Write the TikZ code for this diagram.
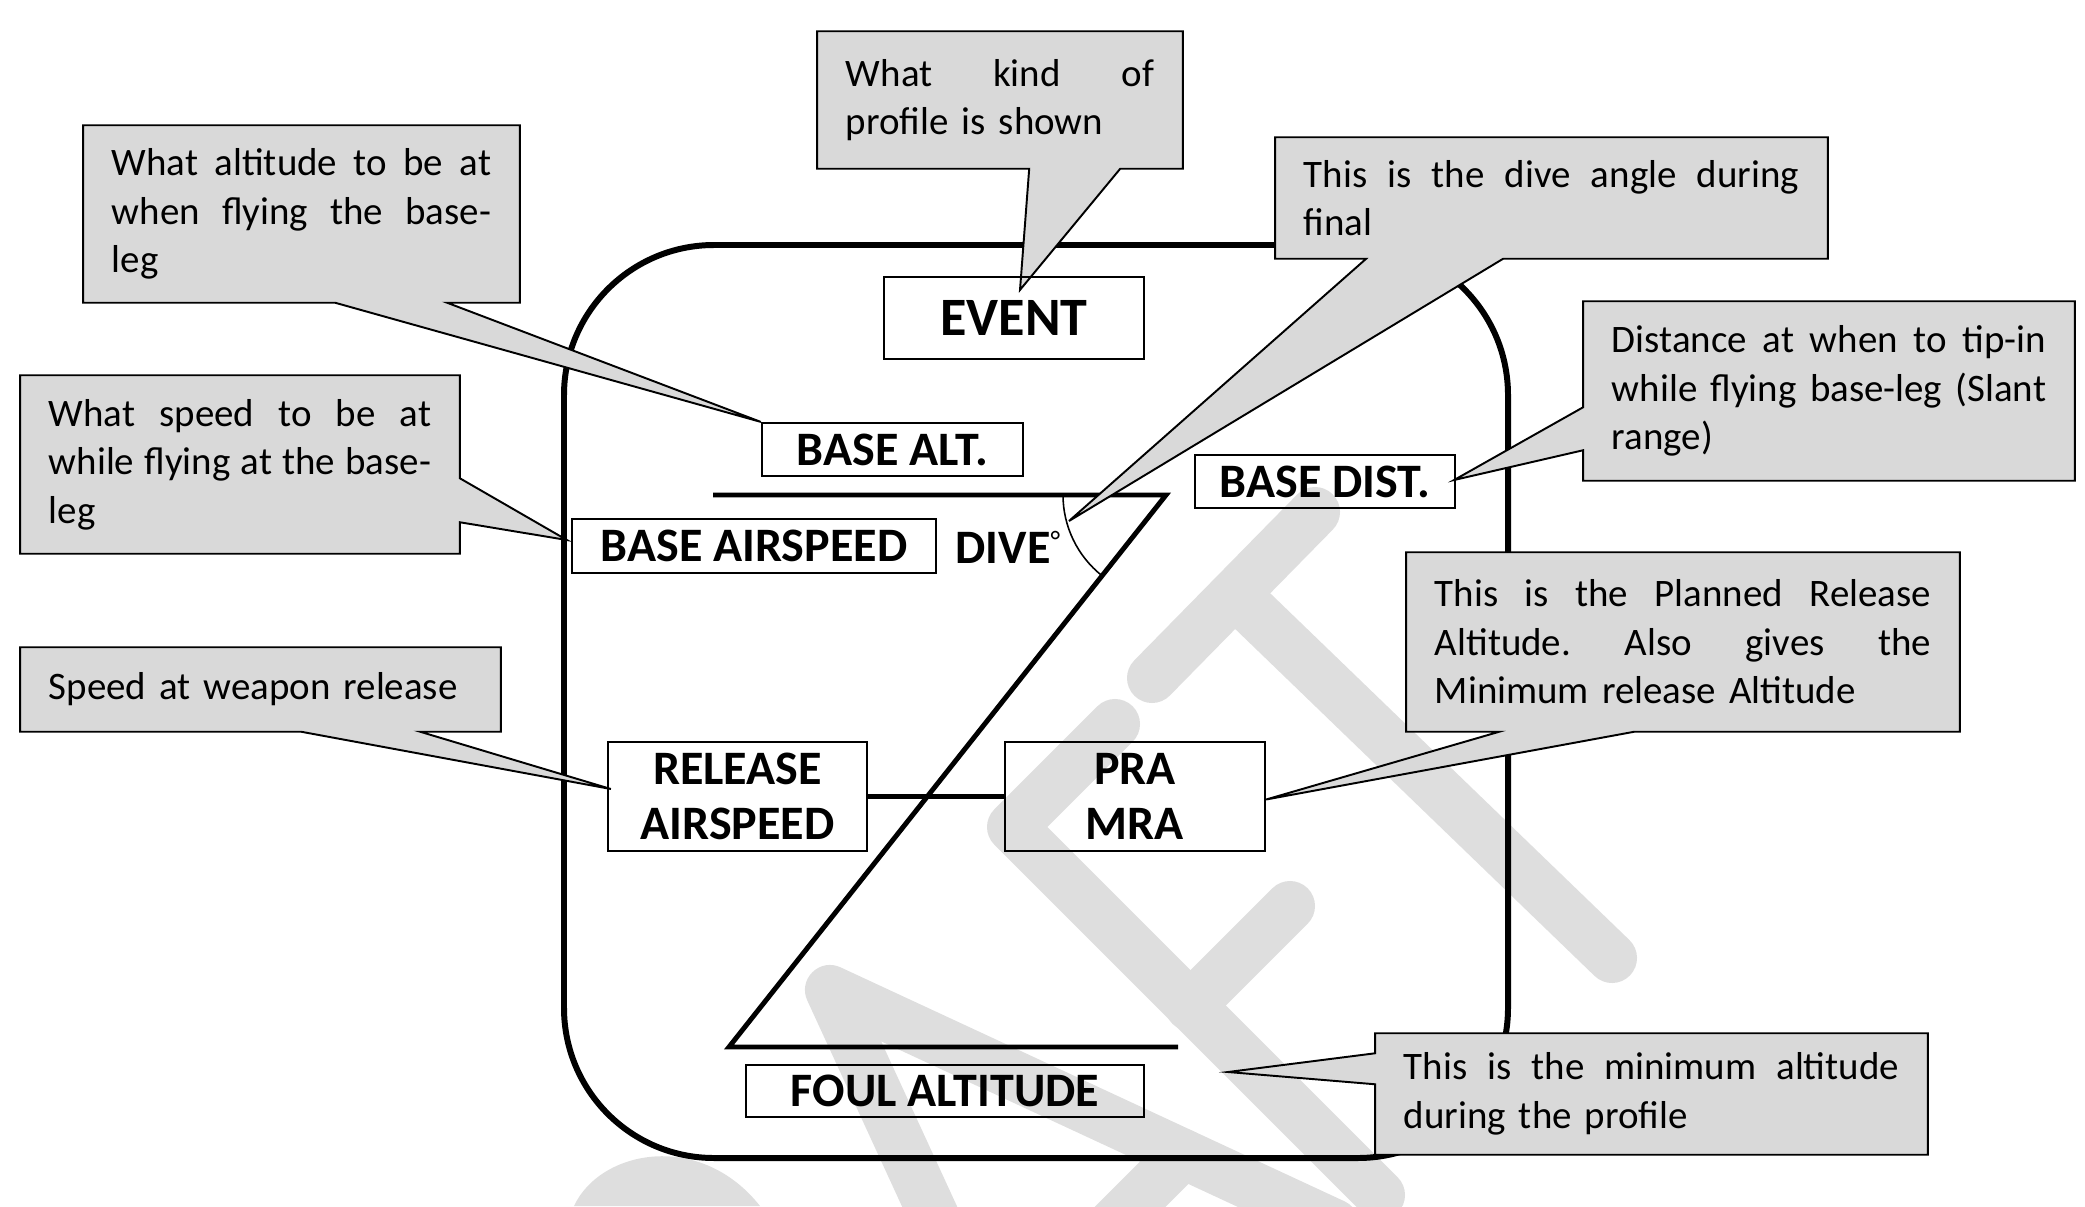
\documentclass[tikz,border=0pt]{standalone}
\usepackage{fontspec}
\setmainfont{Carlito}
\usetikzlibrary{calc}
\pgfdeclarelayer{wm}
\pgfdeclarelayer{frame}
\pgfdeclarelayer{bubble}
\pgfsetlayers{wm,frame,bubble,main}
\definecolor{wmgray}{RGB}{222,222,222}
\definecolor{bubblegray}{RGB}{217,217,217}
\tikzset{
  lbl/.style={draw=black, line width=0.6pt, inner sep=0pt, align=center,
    font=\bfseries\fontsize{13.66pt}{15.6pt}\selectfont},
  ctext/.style={inner xsep=0.28cm, inner ysep=0pt, align=left,
    font=\fontsize{11.07pt}{13.79pt}\selectfont},
  bubble/.style={fill=bubblegray, draw=black, line width=0.55pt, line join=miter},
  wmstroke/.style={draw=wmgray, line width=0.5cm, line cap=round, line join=round},
  frameline/.style={line width=1.7pt},
  zline/.style={line width=1.4pt, line join=miter},
  barline/.style={line width=1.5pt},
  anglearc/.style={line width=0.45pt},
}
\begin{document}
\begin{tikzpicture}[x=0.01cm,y=-0.01cm]
\useasboundingbox (0,0) rectangle (2085,1206);

% ---------- watermark ----------
\begin{pgfonlayer}{wm}
\draw[wmstroke] (1152,678) -- (1315,512);
\draw[wmstroke] (1236,595) -- (1612,958);
\draw[wmstroke] (1115,724) -- (1012,827) -- (1380,1195);
\draw[wmstroke] (1190,1006) -- (1290,906);
\draw[wmstroke] (939,1227) -- (830,990) -- (1334,1224);
\draw[wmstroke] (1183,1154) -- (1083,1254);
\fill[wmgray] (574,1206) .. controls (600,1150) and (700,1130) .. (760,1206) -- cycle;
\end{pgfonlayer}

% ---------- label nodes ----------
\node[lbl, minimum width=2.6cm, minimum height=0.82cm,
  font=\bfseries\fontsize{15.37pt}{17pt}\selectfont] (event) at (1014,318) {EVENT};
\node[lbl, minimum width=2.61cm, minimum height=0.53cm] (basealt) at (892.5,449.5) {BASE ALT.};
\node[lbl, minimum width=3.64cm, minimum height=0.54cm] (baseair) at (754,546) {BASE AIRSPEED};
\node[lbl, minimum width=2.6cm, minimum height=0.53cm] (basedist) at (1325,481.5) {BASE DIST.};
\node[lbl, minimum width=2.59cm, minimum height=1.09cm] (relair) at (737.5,796.5) {RELEASE\\AIRSPEED};
\node[lbl, minimum width=2.6cm, minimum height=1.09cm] (pra) at (1135,796.5) {PRA\\MRA};
\node[lbl, minimum width=3.98cm, minimum height=0.52cm] (foul) at (945,1091) {FOUL ALTITUDE};
\node[inner sep=0pt, anchor=west, font=\bfseries\fontsize{13.66pt}{15.6pt}\selectfont] (dive) at (955,547)
  {DIVE\raisebox{0.55ex}{\mdseries\fontsize{8pt}{9pt}\selectfont °}};

% ---------- frame and profile ----------
\begin{pgfonlayer}{frame}
\draw[frameline, rounded corners=1.5cm] (564,245) rectangle (1508,1158);
\coordinate (zTL) at (713,495);
\coordinate (zTR) at (1166,495);
\coordinate (zBL) at (729,1047);
\coordinate (zBR) at (1178,1047);
\draw[zline] (zTL) -- (zTR) -- (zBL) -- (zBR);
\draw[anglearc] (zTR) ++(-103,0) arc[start angle=180, end angle=128.4, radius=103];
\draw[barline] (relair.east) -- (pra.west);
\end{pgfonlayer}

% ---------- callouts ----------
\node[ctext, text width=3.08cm, minimum height=1.36cm] (c1) at (1000,100)
  {What\hfill kind\hfill of\\profile is shown};
\node[ctext, text width=3.79cm, minimum height=1.76cm] (c2) at (301.5,214)
  {What\hfill altitude\hfill to\hfill be\hfill at\\when\hfill flying\hfill the\hfill base-\\leg};
\node[ctext, text width=3.82cm, minimum height=1.77cm] (c3) at (240,464.5)
  {What\hfill speed\hfill to\hfill be\hfill at\\while\hfill flying\hfill at\hfill the\hfill base-\\leg};
\node[ctext, text width=4.23cm, minimum height=0.83cm] (c4) at (260.5,689.5)
  {Speed at weapon release};
\node[ctext, text width=4.95cm, minimum height=1.2cm] (c5) at (1551.5,198)
  {This\hfill is\hfill the\hfill dive\hfill angle\hfill during\\final};
\node[ctext, text width=4.34cm, minimum height=1.78cm] (c6) at (1829,391)
  {Distance\hfill at\hfill when\hfill to\hfill tip-in\\while\hfill flying\hfill base-leg\hfill (Slant\\range)};
\node[ctext, text width=4.96cm, minimum height=1.78cm] (c7) at (1683,642)
  {This\hfill is\hfill the\hfill Planned\hfill Release\\Altitude.\hfill Also\hfill gives\hfill the\\Minimum release Altitude};
\node[ctext, text width=4.95cm, minimum height=1.2cm] (c8) at (1651.5,1094)
  {This\hfill is\hfill the\hfill minimum\hfill altitude\\during the profile};

\coordinate (divetip) at (1069,521);
\coordinate (foultip) at (1228,1072);

\begin{pgfonlayer}{bubble}
\draw[bubble] (c1.north west) -- (c1.north east) -- (c1.south east)
  -- ($(c1.south west)+(303,0)$) -- ($(event.north)+(6,14)$)
  -- ($(c1.south west)+(212,0)$) -- (c1.south west) -- cycle;
\draw[bubble] (c2.north west) -- (c2.north east) -- (c2.south east)
  -- ($(c2.south west)+(364,0)$) -- (basealt.north west)
  -- ($(c2.south west)+(252,0)$) -- (c2.south west) -- cycle;
\draw[bubble] (c3.north west) -- (c3.north east)
  -- ($(c3.north east)+(0,103)$) -- ($(baseair.west)+(-4,-6)$)
  -- ($(c3.north east)+(0,147)$) -- (c3.south east) -- (c3.south west) -- cycle;
\draw[bubble] (c4.north west) -- (c4.north east) -- (c4.south east)
  -- ($(c4.south west)+(400,0)$) -- ($(relair.west)+(4,-7.5)$)
  -- ($(c4.south west)+(281,0)$) -- (c4.south west) -- cycle;
\draw[bubble] (c5.north west) -- (c5.north east) -- (c5.south east)
  -- ($(c5.south west)+(228,0)$) -- (divetip)
  -- ($(c5.south west)+(91,0)$) -- (c5.south west) -- cycle;
\draw[bubble] (c6.north west) -- (c6.north east) -- (c6.south east) -- (c6.south west)
  -- ($(c6.north west)+(0,149)$) -- ($(basedist.east)+(-2,-1.5)$)
  -- ($(c6.north west)+(0,106)$) -- cycle;
\draw[bubble] (c7.north west) -- (c7.north east) -- (c7.south east)
  -- ($(c7.south west)+(228,0)$) -- ($(pra.east)+(0,3)$)
  -- ($(c7.south west)+(93,0)$) -- (c7.south west) -- cycle;
\draw[bubble] (c8.north west) -- (c8.north east) -- (c8.south east) -- (c8.south west)
  -- ($(c8.north west)+(0,51)$) -- (foultip)
  -- ($(c8.north west)+(0,20)$) -- cycle;
\end{pgfonlayer}
\end{tikzpicture}
\end{document}
